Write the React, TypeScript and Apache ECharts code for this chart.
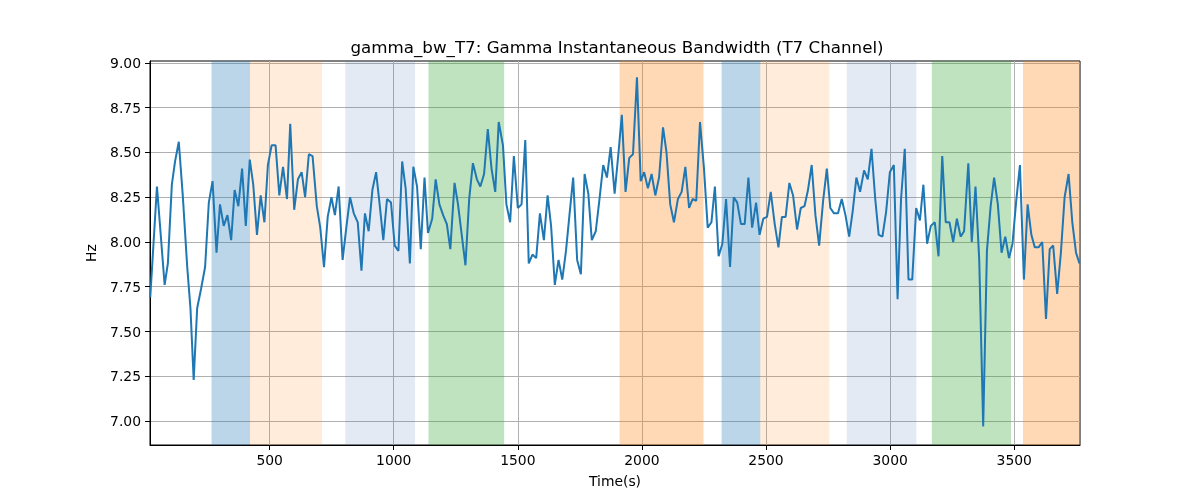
import {useEffect, useRef} from "react";
import * as echarts from "echarts";

// sample times (s) and gamma bandwidth values (Hz)
const times: number[] = [
    19, 46, 77, 90, 106, 119, 134, 150, 168, 181, 194, 208, 224, 240, 255, 270, 286, 300, 315, 330,
    345, 359, 374, 389, 404, 420, 434, 449, 464, 479, 493, 508, 524, 539, 554, 570, 583, 599, 614, 629,
    643, 658, 673, 690, 704, 719, 734, 749, 763, 778, 794, 809, 824, 839, 855, 870, 884, 899, 914, 929,
    944, 958, 973, 989, 1004, 1019, 1034, 1048, 1065, 1079, 1094, 1109, 1124, 1138, 1155, 1169, 1184, 1199, 1214, 1228,
    1245, 1259, 1274, 1289, 1304, 1319, 1335, 1349, 1364, 1379, 1394, 1409, 1423, 1440, 1454, 1469, 1484, 1500, 1515, 1530,
    1544, 1559, 1574, 1589, 1605, 1620, 1634, 1649, 1664, 1679, 1694, 1708, 1723, 1739, 1754, 1769, 1784, 1798, 1814, 1829,
    1844, 1859, 1874, 1890, 1905, 1919, 1934, 1949, 1964, 1980, 1995, 2009, 2024, 2039, 2054, 2069, 2085, 2099, 2114, 2129,
    2145, 2160, 2175, 2190, 2204, 2219, 2234, 2250, 2265, 2280, 2294, 2309, 2324, 2339, 2355, 2370, 2384, 2399, 2414, 2429,
    2444, 2460, 2474, 2489, 2504, 2519, 2535, 2550, 2564, 2579, 2594, 2609, 2625, 2640, 2655, 2669, 2684, 2699, 2714, 2730,
    2745, 2759, 2774, 2790, 2805, 2820, 2835, 2849, 2864, 2879, 2895, 2910, 2925, 2940, 2954, 2969, 2984, 2999, 3015, 3030,
    3044, 3059, 3074, 3089, 3105, 3120, 3134, 3149, 3164, 3180, 3195, 3210, 3224, 3239, 3254, 3269, 3284, 3298, 3315, 3329,
    3344, 3359, 3375, 3390, 3405, 3419, 3434, 3449, 3464, 3479, 3493, 3508, 3523, 3539, 3554, 3569, 3583, 3598, 3613, 3628,
    3643, 3657, 3673, 3688, 3703, 3719, 3734, 3749, 3763,
];

const hz: number[] = [
    7.69, 8.31, 7.76, 7.88, 8.32, 8.45, 8.56, 8.26, 7.86, 7.63, 7.23, 7.63, 7.74, 7.86, 8.22, 8.34, 7.94, 8.21, 8.09, 8.15,
    8.01, 8.29, 8.20, 8.41, 8.09, 8.46, 8.32, 8.04, 8.26, 8.11, 8.43, 8.54, 8.54, 8.26, 8.42, 8.24, 8.66, 8.18, 8.35, 8.39,
    8.25, 8.49, 8.48, 8.20, 8.08, 7.86, 8.14, 8.25, 8.15, 8.31, 7.90, 8.08, 8.25, 8.16, 8.11, 7.84, 8.16, 8.06, 8.29, 8.39,
    8.20, 8.01, 8.24, 8.22, 7.98, 7.95, 8.45, 8.30, 7.88, 8.42, 8.31, 7.96, 8.36, 8.05, 8.13, 8.35, 8.21, 8.15, 8.10, 7.96,
    8.33, 8.21, 8.04, 7.87, 8.24, 8.44, 8.35, 8.31, 8.38, 8.63, 8.41, 8.28, 8.67, 8.54, 8.21, 8.11, 8.48, 8.19, 8.21, 8.57,
    7.88, 7.93, 7.91, 8.16, 8.01, 8.26, 8.09, 7.76, 7.90, 7.79, 7.95, 8.15, 8.36, 7.90, 7.82, 8.38, 8.27, 8.01, 8.06, 8.24,
    8.43, 8.36, 8.53, 8.27, 8.49, 8.71, 8.28, 8.47, 8.49, 8.92, 8.34, 8.39, 8.30, 8.38, 8.26, 8.36, 8.64, 8.50, 8.21, 8.11,
    8.24, 8.28, 8.42, 8.19, 8.24, 8.23, 8.67, 8.41, 8.08, 8.11, 8.31, 7.92, 7.99, 8.24, 7.86, 8.25, 8.22, 8.10, 8.10, 8.36,
    8.08, 8.22, 8.04, 8.13, 8.14, 8.28, 8.10, 7.97, 8.14, 8.14, 8.33, 8.26, 8.07, 8.19, 8.20, 8.29, 8.43, 8.15, 7.98, 8.23,
    8.41, 8.19, 8.16, 8.16, 8.24, 8.15, 8.03, 8.17, 8.36, 8.28, 8.40, 8.35, 8.52, 8.24, 8.04, 8.03, 8.17, 8.39, 8.43, 7.68,
    8.24, 8.52, 7.79, 7.79, 8.19, 8.12, 8.32, 7.99, 8.09, 8.11, 7.92, 8.48, 8.11, 8.11, 8.00, 8.13, 8.03, 8.06, 8.44, 8.00,
    8.31, 7.90, 6.97, 7.95, 8.20, 8.36, 8.21, 7.94, 8.03, 7.91, 7.99, 8.23, 8.43, 7.79, 8.21, 8.04, 7.97, 7.97, 8.00, 7.57,
    7.96, 7.98, 7.71, 7.94, 8.25, 8.38, 8.11, 7.94, 7.88,
];

// shaded intervals [start, end] in seconds
const bands: [number, number][] = [
    [266, 421], [421, 711], [805, 1086], [1140, 1445], [1910, 2248],
    [2321, 2477], [2477, 2755], [2825, 3106], [3168, 3487], [3535, 3765],
];
const bandColors = [
    "rgba(31,119,180,0.3)", "rgba(255,127,14,0.15)", "rgba(76,114,176,0.15)", "rgba(44,160,44,0.3)", "rgba(255,127,14,0.3)",
    "rgba(31,119,180,0.3)", "rgba(255,127,14,0.15)", "rgba(76,114,176,0.15)", "rgba(44,160,44,0.3)", "rgba(255,127,14,0.3)",
];

const xTicks = [500, 1000, 1500, 2000, 2500, 3000, 3500];
const yTicks = [7.0, 7.25, 7.5, 7.75, 8.0, 8.25, 8.5, 8.75, 9.0];

const FONT = "DejaVu Sans";

export default function App() {
    const domRef = useRef<HTMLDivElement>(null);

    useEffect(() => {
        if (!domRef.current) return;
        const chart = echarts.init(domRef.current, null, {renderer: "svg"});
        const axisText = {color: "#000", fontFamily: FONT, fontSize: 13.9};
        chart.setOption({
            animation: false,
            title: {
                text: "gamma_bw_T7: Gamma Instantaneous Bandwidth (T7 Channel)",
                left: 612, top: 33, textAlign: "center",
                textStyle: {color: "#000", fontFamily: FONT, fontSize: 16.7, fontWeight: "normal"},
            },
            grid: {left: 150, right: 120, top: 61, bottom: 55, show: true, borderColor: "#000", borderWidth: 1, backgroundColor: "transparent"},
            xAxis: {
                type: "value", min: 18, max: 3765,
                name: "Time(s)", nameLocation: "middle", nameGap: 29, nameTextStyle: axisText,
                axisLine: {lineStyle: {color: "#000", width: 1}},
                axisTick: {length: 5, lineStyle: {color: "#000"}, customValues: xTicks},
                axisLabel: {...axisText, margin: 8, customValues: xTicks, formatter: (v: number) => String(v)},
                splitLine: {show: true, lineStyle: {color: "#b0b0b0", width: 1}},
            },
            yAxis: {
                type: "value", min: 6.866, max: 9.011,
                name: "Hz", nameLocation: "middle", nameGap: 52, nameTextStyle: axisText,
                axisLine: {show: true, lineStyle: {color: "#000", width: 1}},
                axisTick: {show: true, length: 5, lineStyle: {color: "#000"}, customValues: yTicks},
                axisLabel: {...axisText, margin: 9, customValues: yTicks, formatter: (v: number) => v.toFixed(2)},
                splitLine: {show: true, lineStyle: {color: "#b0b0b0", width: 1}},
            },
            series: [{
                type: "line",
                data: times.map((t, i) => [t, hz[i]]),
                symbol: "none",
                lineStyle: {color: "#1f77b4", width: 2},
                markArea: {
                    silent: true,
                    data: bands.map(([s, e], i) => [{xAxis: s, itemStyle: {color: bandColors[i]}}, {xAxis: e}]),
                },
            }],
        });
        return () => chart.dispose();
    }, []);

    return <div ref={domRef} style={{position: "fixed", left: 0, top: 0, width: 1200, height: 500}} />;
}
